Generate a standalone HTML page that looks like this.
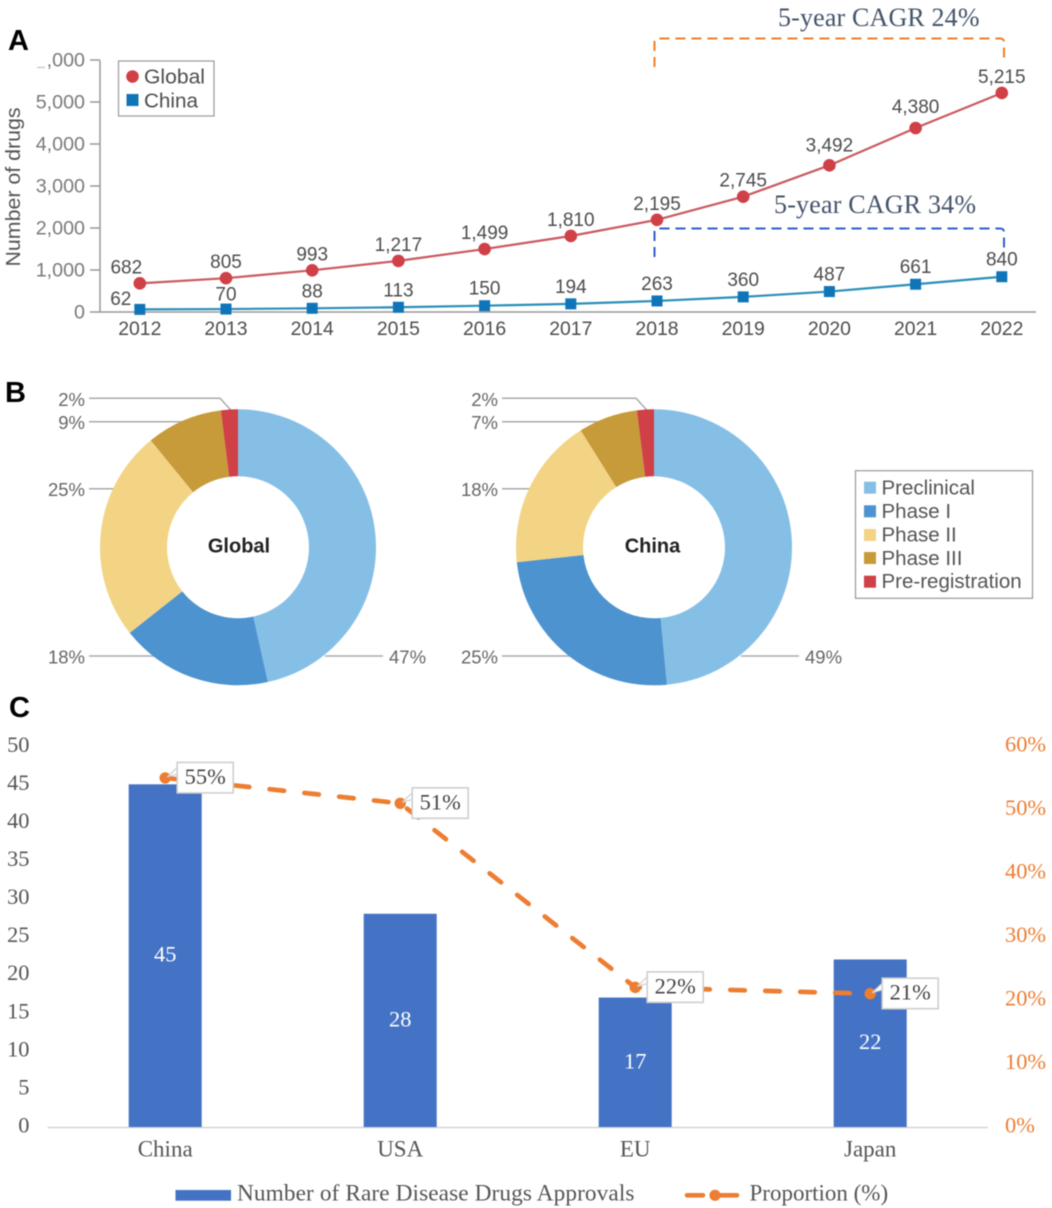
<!DOCTYPE html>
<html lang="en">
<head>
<meta charset="utf-8">
<title>Rare disease drug pipeline</title>
<style>
html,body{margin:0;padding:0;background:#fff;width:1052px;height:1208px;overflow:hidden}
svg{display:block;filter:blur(.45px)}
.sans{font-family:"Liberation Sans",sans-serif}
.serif{font-family:"Liberation Serif",serif}
</style>
</head>
<body>
<svg id="figure" xmlns="http://www.w3.org/2000/svg" width="1052" height="1208" viewBox="0 0 1052 1208">
  <rect x="0" y="0" width="1052" height="1208" fill="#fff"/>
  <text class="sans" x="8" y="50" font-size="29" font-weight="700" fill="#000">A</text>
  <text class="sans" x="5" y="402" font-size="29" font-weight="700" fill="#000">B</text>
  <text class="sans" x="9" y="717" font-size="29" font-weight="700" fill="#000">C</text>

  <g id="panel-a">
    <text class="sans" transform="translate(20,187) rotate(-90)" text-anchor="middle" font-size="20.5" fill="#555" textLength="159" lengthAdjust="spacingAndGlyphs">Number of drugs</text>
    <path d="M37 67.5H45" stroke="#ccc" stroke-width="1.5" fill="none"/>
    <path d="M654.5 67V42Q654.5 38.5 658 38.5H1000Q1004 38.5 1004 42V61" fill="none" stroke="#f07d28" stroke-width="2" stroke-dasharray="10 6"/>
    <path d="M654.5 257V232Q654.5 228.5 658 228.5H1000Q1004 228.5 1004 232V252" fill="none" stroke="#2e5fc8" stroke-width="2" stroke-dasharray="10 6"/>
    <text class="serif" x="778" y="26" font-size="26" fill="#44546a" textLength="201.5" lengthAdjust="spacing">5-year CAGR 24%</text>
    <text class="serif" x="774" y="213" font-size="26" fill="#44546a" textLength="202" lengthAdjust="spacing">5-year CAGR 34%</text>
    <g>
      <rect x="118.5" y="61" width="95.5" height="55" fill="#fff" stroke="#999" stroke-width="1.2"/>
      <circle cx="132.5" cy="76.5" r="6.3" fill="#cf4047"/>
      <rect x="126.5" y="94" width="12" height="12" fill="#0f75b8"/>
      <text class="sans" x="144" y="83.5" font-size="20.5" fill="#4d4d4d" textLength="61" lengthAdjust="spacingAndGlyphs">Global</text>
      <text class="sans" x="144" y="107.5" font-size="20.5" fill="#4d4d4d" textLength="54" lengthAdjust="spacingAndGlyphs">China</text>
    </g>
  </g>

  <g id="panel-b">
    <g>
      <rect x="855.5" y="470.7" width="177" height="127.6" fill="#fff" stroke="#999" stroke-width="1.2"/>
      <rect x="864" y="481.7" width="12" height="12" fill="#85bfe6"/>
      <text class="sans" x="881.5" y="494.5" font-size="20.5" fill="#555">Preclinical</text>
      <rect x="864" y="505.3" width="12" height="12" fill="#4d93cf"/>
      <text class="sans" x="881.5" y="518" font-size="20.5" fill="#555">Phase I</text>
      <rect x="864" y="529" width="12" height="12" fill="#f2d484"/>
      <text class="sans" x="881.5" y="541.5" font-size="20.5" fill="#555">Phase II</text>
      <rect x="864" y="552" width="12" height="12" fill="#c79a3a"/>
      <text class="sans" x="881.5" y="565" font-size="20.5" fill="#555">Phase III</text>
      <rect x="864" y="575.7" width="12" height="12" fill="#cf4047"/>
      <text class="sans" x="881.5" y="588" font-size="20.5" fill="#555">Pre-registration</text>
    </g>
  </g>

  <g id="panel-c">
    <rect x="175.5" y="1190" width="55.5" height="10.7" fill="#4472c4"/>
    <text class="serif" x="237" y="1200.5" font-size="23.3" fill="#555" textLength="397.5" lengthAdjust="spacing">Number of Rare Disease Drugs Approvals</text>
    <path d="M687 1195.3H703M717 1195.3H737" stroke="#ed7d31" stroke-width="4.6" stroke-linecap="round" fill="none"/>
    <circle cx="715" cy="1195.3" r="5.6" fill="#ed7d31"/>
    <text class="serif" x="749.5" y="1200.5" font-size="23" fill="#555">Proportion (%)</text>
  </g>
</svg>

<script>
// Panel A data
const years = ['2012','2013','2014','2015','2016','2017','2018','2019','2020','2021','2022'];
const globalDrugs = [682,805,993,1217,1499,1810,2195,2745,3492,4380,5215];
const chinaDrugs = [62,70,88,113,150,194,263,360,487,661,840];
const globalLabels = ['682','805','993','1,217','1,499','1,810','2,195','2,745','3,492','4,380','5,215'];
const chinaLabels = ['62','70','88','113','150','194','263','360','487','661','840'];
const drugTicks = [0,1000,2000,3000,4000,5000,6000];
const drugTickLabels = ['0','1,000','2,000','3,000','4,000','5,000',',000'];

// Panel B data
const stages = ['preclinical','phase-1','phase-2','phase-3','pre-registration'];
const globalShares = [47,18,25,9,2];
const chinaShares = [49,25,18,7,2];

// Panel C data
const regions = ['China','USA','EU','Japan'];
const approvals = [45,28,17,22];
const proportions = [55,51,22,21];
const approvalTicks = [0,5,10,15,20,25,30,35,40,45,50];
const proportionTicks = [0,10,20,30,40,50,60];

const NS = 'http://www.w3.org/2000/svg';
function mk(tag, attrs, parent, txt) {
  const n = document.createElementNS(NS, tag);
  for (const k in attrs) n.setAttribute(k, attrs[k]);
  if (txt !== undefined) n.textContent = txt;
  parent.appendChild(n);
  return n;
}

/* ---------- Panel A ---------- */
(function () {
  const g = document.getElementById('panel-a');
  const xA = i => 139.8 + i * 86.2;
  const yA = v => 312 - v * 0.042;
  const axisCol = '#999';
  let el;

  el = mk('path', {d: 'M100 60.5V312H1036', fill: 'none', stroke: axisCol, 'stroke-width': 1.5}, g);
  
  

  drugTicks.forEach((v, i) => {
    const tick = mk('line', {x1: 90, x2: 100, y1: yA(v), y2: yA(v), stroke: axisCol, 'stroke-width': 1.5}, g);
    
    
    const lab = mk('text', {x: 85, y: yA(v) + 6.5, 'text-anchor': 'end', 'font-size': 19.7, fill: '#7a7a7a', class: 'sans'}, g, drugTickLabels[i]);
    
    
  });

  years.forEach((yr, i) => {
    const lab = mk('text', {x: xA(i), y: 335, 'text-anchor': 'middle', 'font-size': 19.4, fill: '#4d4d4d', class: 'sans'}, g, yr);
    
    
  });

  const gl = mk('polyline', {points: globalDrugs.map((v, i) => xA(i) + ',' + yA(v)).join(' '), fill: 'none', stroke: '#c95a60', 'stroke-width': 2.2}, g);
  
  
  const cl = mk('polyline', {points: chinaDrugs.map((v, i) => xA(i) + ',' + yA(v)).join(' '), fill: 'none', stroke: '#2a8fb8', 'stroke-width': 2.2}, g);
  
  

  globalDrugs.forEach((v, i) => {
    const pt = mk('circle', {cx: xA(i), cy: yA(v), r: 6.3, fill: '#cf4047'}, g);
    
    
    const gap = i === 8 ? 14 : (i === 9 ? 15 : 10);
    const lab = mk('text', {x: i === 0 ? xA(i) - 13.5 : xA(i), y: yA(v) - gap, 'text-anchor': 'middle', 'font-size': 19, fill: '#4d4d4d', class: 'sans'}, g, globalLabels[i]);
    
    
  });

  chinaDrugs.forEach((v, i) => {
    const pt = mk('rect', {x: xA(i) - 5.5, y: yA(v) - 5.5, width: 11, height: 11, fill: '#0f75b8'}, g);
    
    
    const gap = i === 0 ? 4.5 : (i === 1 ? 8.5 : 11);
    const lab = mk('text', {x: i === 0 ? xA(i) - 19 : xA(i), y: yA(v) - gap, 'text-anchor': 'middle', 'font-size': 19, fill: '#4d4d4d', class: 'sans'}, g, chinaLabels[i]);
    
    
  });
})();

/* ---------- Panel B ---------- */
(function () {
  const g = document.getElementById('panel-b');
  const sliceColours = ['#85bfe6', '#4d93cf', '#f2d484', '#c79a3a', '#cf4047'];
  const R = 138, r = 71, cy = 547.3;

  function drawDonut(shares, cx, leftX, title, key, titleShift) {
    const wrap = mk('g', {}, g);
    
    

    // Leader rows are layout, one for each slice; slices are painted over their inner ends.
    const rowY = [656, 656, 488.7, 421.7, 398.3];
    const rowEnd = [0, cx - 70, cx - 100, cx - 40, cx - 18];
    shares.forEach((s, i) => {
      let d;
      if (i === 0) d = 'M' + (cx + 87) + ' ' + rowY[i] + 'H' + (cx + 145);
      else if (i === 4) d = 'M' + leftX + ' ' + rowY[i] + 'H' + rowEnd[i] + 'L' + (cx - 7) + ' ' + (cy - R + 1);
      else d = 'M' + leftX + ' ' + rowY[i] + 'H' + rowEnd[i];
      const line = mk('path', {d: d, fill: 'none', stroke: '#aaa', 'stroke-width': 1.5}, wrap);
      
      
      const lab = mk('text', {
        x: i === 0 ? cx + 151 : leftX - 4,
        y: rowY[i] + 7.5,
        'text-anchor': i === 0 ? 'start' : 'end',
        'font-size': 18.5, fill: '#666', class: 'sans'
      }, wrap, s + '%');
      
      
    });

    const total = shares.reduce((a, b) => a + b, 0);
    let acc = 0;
    shares.forEach((s, i) => {
      const a0 = acc / total * 2 * Math.PI;
      acc += s;
      const a1 = acc / total * 2 * Math.PI;
      const large = a1 - a0 > Math.PI ? 1 : 0;
      const p = (rad, a) => (cx + rad * Math.sin(a)).toFixed(2) + ' ' + (cy - rad * Math.cos(a)).toFixed(2);
      const d = 'M' + p(R, a0) + 'A' + R + ' ' + R + ' 0 ' + large + ' 1 ' + p(R, a1) +
                'L' + p(r, a1) + 'A' + r + ' ' + r + ' 0 ' + large + ' 0 ' + p(r, a0) + 'Z';
      const slice = mk('path', {d: d, fill: sliceColours[i]}, wrap);
      
      
    });

    const ttl = mk('text', {x: cx + titleShift, y: cy + 5, 'text-anchor': 'middle', 'font-size': 20, 'font-weight': 700, fill: '#222', class: 'sans'}, wrap, title);
    
    
  }

  drawDonut(globalShares, 238, 89, 'Global', 'global', 1);
  drawDonut(chinaShares, 654, 502, 'China', 'china', -1.5);
})();

/* ---------- Panel C ---------- */
(function () {
  const g = document.getElementById('panel-c');
  const xC = i => 47.7 + 117.5 + i * 235;
  const yBar = v => 1127 - v * 7.615;
  const yPct = v => 1127 - v * 6.347;
  const orange = '#ed7d31';
  const barW = 73;

  approvalTicks.forEach(v => {
    const lab = mk('text', {x: 29.5, y: yBar(v) + 5.5, 'text-anchor': 'end', 'font-size': 22.4, fill: '#555', class: 'serif'}, g, String(v));
    
    
  });
  proportionTicks.forEach(v => {
    const lab = mk('text', {x: 1005, y: yPct(v) + 5.5, 'font-size': 22.4, fill: orange, class: 'serif'}, g, v + '%');
    
    
  });

  const axis = mk('line', {x1: 47.7, x2: 987.7, y1: 1127.5, y2: 1127.5, stroke: '#d4d4d4', 'stroke-width': 1.5}, g);
  
  

  regions.forEach((name, i) => {
    const bar = mk('rect', {x: xC(i) - barW / 2, y: yBar(approvals[i]), width: barW, height: yBar(0) - yBar(approvals[i]), fill: '#4472c4'}, g);
    
    
    const val = mk('text', {x: xC(i), y: (yBar(approvals[i]) + yBar(0)) / 2 + 6, 'text-anchor': 'middle', 'font-size': 22.4, fill: '#fff', class: 'serif'}, g, String(approvals[i]));
    
    
    const cat = mk('text', {x: xC(i), y: 1156.7, 'text-anchor': 'middle', 'font-size': 23, fill: '#555', class: 'serif'}, g, name);
    
    
  });

  const line = mk('polyline', {
    points: proportions.map((v, i) => xC(i) + ',' + yPct(v)).join(' '),
    fill: 'none', stroke: orange, 'stroke-width': 4.7, 'stroke-dasharray': '14.5 20.5', 'stroke-linecap': 'round'
  }, g);
  
  

  proportions.forEach((v, i) => {
    const px = xC(i), py = yPct(v);
    const pt = mk('circle', {cx: px, cy: py, r: 5.7, fill: orange}, g);
    
    
    const wedge = mk('polygon', {
      points: (px + 2) + ',' + (py - 1) + ' ' + (px + 12.5) + ',' + (py - 11) + ' ' + (px + 12.5) + ',' + (py - 4),
      fill: '#fff', stroke: '#cfcfcf', 'stroke-width': 1.2
    }, g);
    
    
    const box = mk('rect', {x: px + 12, y: py - 15.5, width: 56, height: 30.5, fill: '#fff', stroke: '#cfcfcf', 'stroke-width': 1.6}, g);
    
    
    const lab = mk('text', {x: px + 40, y: py + 6, 'text-anchor': 'middle', 'font-size': 22.4, fill: '#444', class: 'serif'}, g, v + '%');
    
    
  });
})();
</script>
</body>
</html>
